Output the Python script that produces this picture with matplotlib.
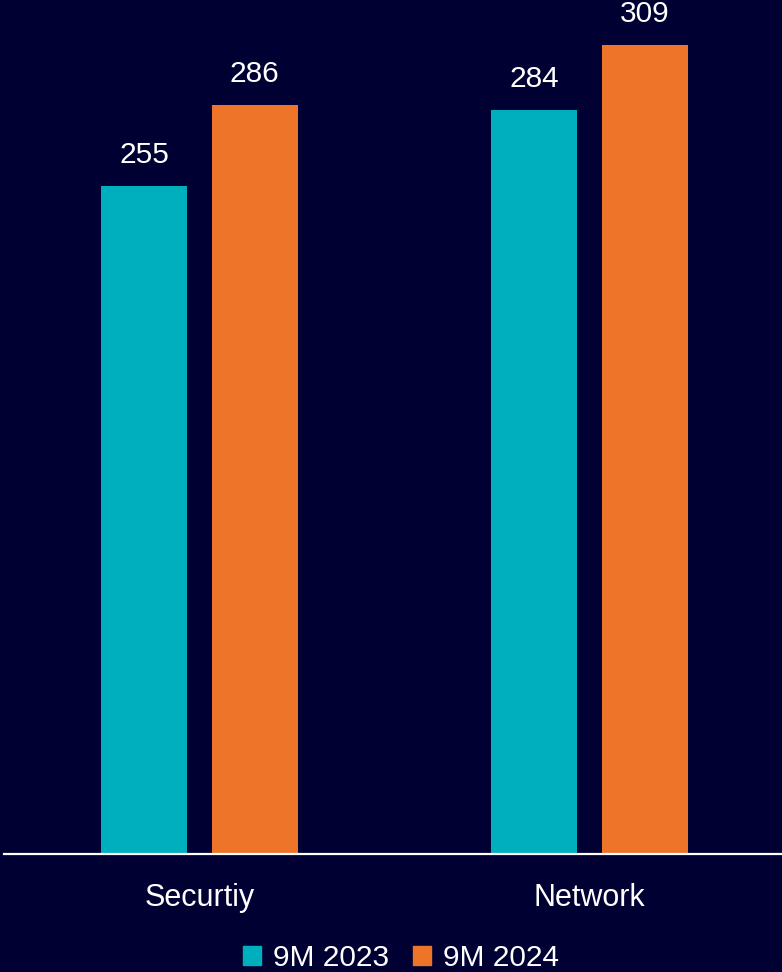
import matplotlib.pyplot as plt
import numpy as np
from matplotlib.patches import Patch

categories = ['Securtiy', 'Network']
series_names = ['9M 2023', '9M 2024']
values_2023 = [255, 284]
values_2024 = [286, 309]

bg = '#000033'
teal = '#00AFBD'
orange = '#EE742A'

plt.rcParams['font.family'] = ['Liberation Sans', 'DejaVu Sans']

fig = plt.figure(figsize=(7.82, 9.72), dpi=100, facecolor=bg)
ax = fig.add_axes([4 / 782, 118 / 972, 778 / 782, 854 / 972], facecolor=bg)

x = np.arange(len(categories))
w = 0.22
off = 0.142
b1 = ax.bar(x - off, values_2023, w, color=teal)
b2 = ax.bar(x + off, values_2024, w, color=orange)

for bars in (b1, b2):
    for r in bars:
        ax.annotate(str(int(r.get_height())), (r.get_x() + r.get_width() / 2, r.get_height()),
                    xytext=(0, 12), textcoords='offset points', ha='center', va='bottom',
                    color='white', fontsize=21.5, annotation_clip=False)

ax.set_xlim(-0.501, 1.494)
ax.set_ylim(0, 326)
for s in ['top', 'left', 'right']:
    ax.spines[s].set_visible(False)
ax.spines['bottom'].set_color('white')
ax.spines['bottom'].set_linewidth(1.6)
ax.set_yticks([])
ax.set_xticks(x, categories)
ax.tick_params(axis='x', length=0, pad=21, labelcolor='white', labelsize=22)

handles = [Patch(color=teal), Patch(color=orange)]
fig.legend(handles, series_names, loc='center', bbox_to_anchor=(401 / 782, 1 - 958 / 972), ncol=2,
           frameon=False, fontsize=21.5, labelcolor='white', handlelength=0.6, handleheight=0.6,
           handletextpad=0.4, columnspacing=0.8)

fig.savefig('out.png', dpi=100, facecolor=bg)
